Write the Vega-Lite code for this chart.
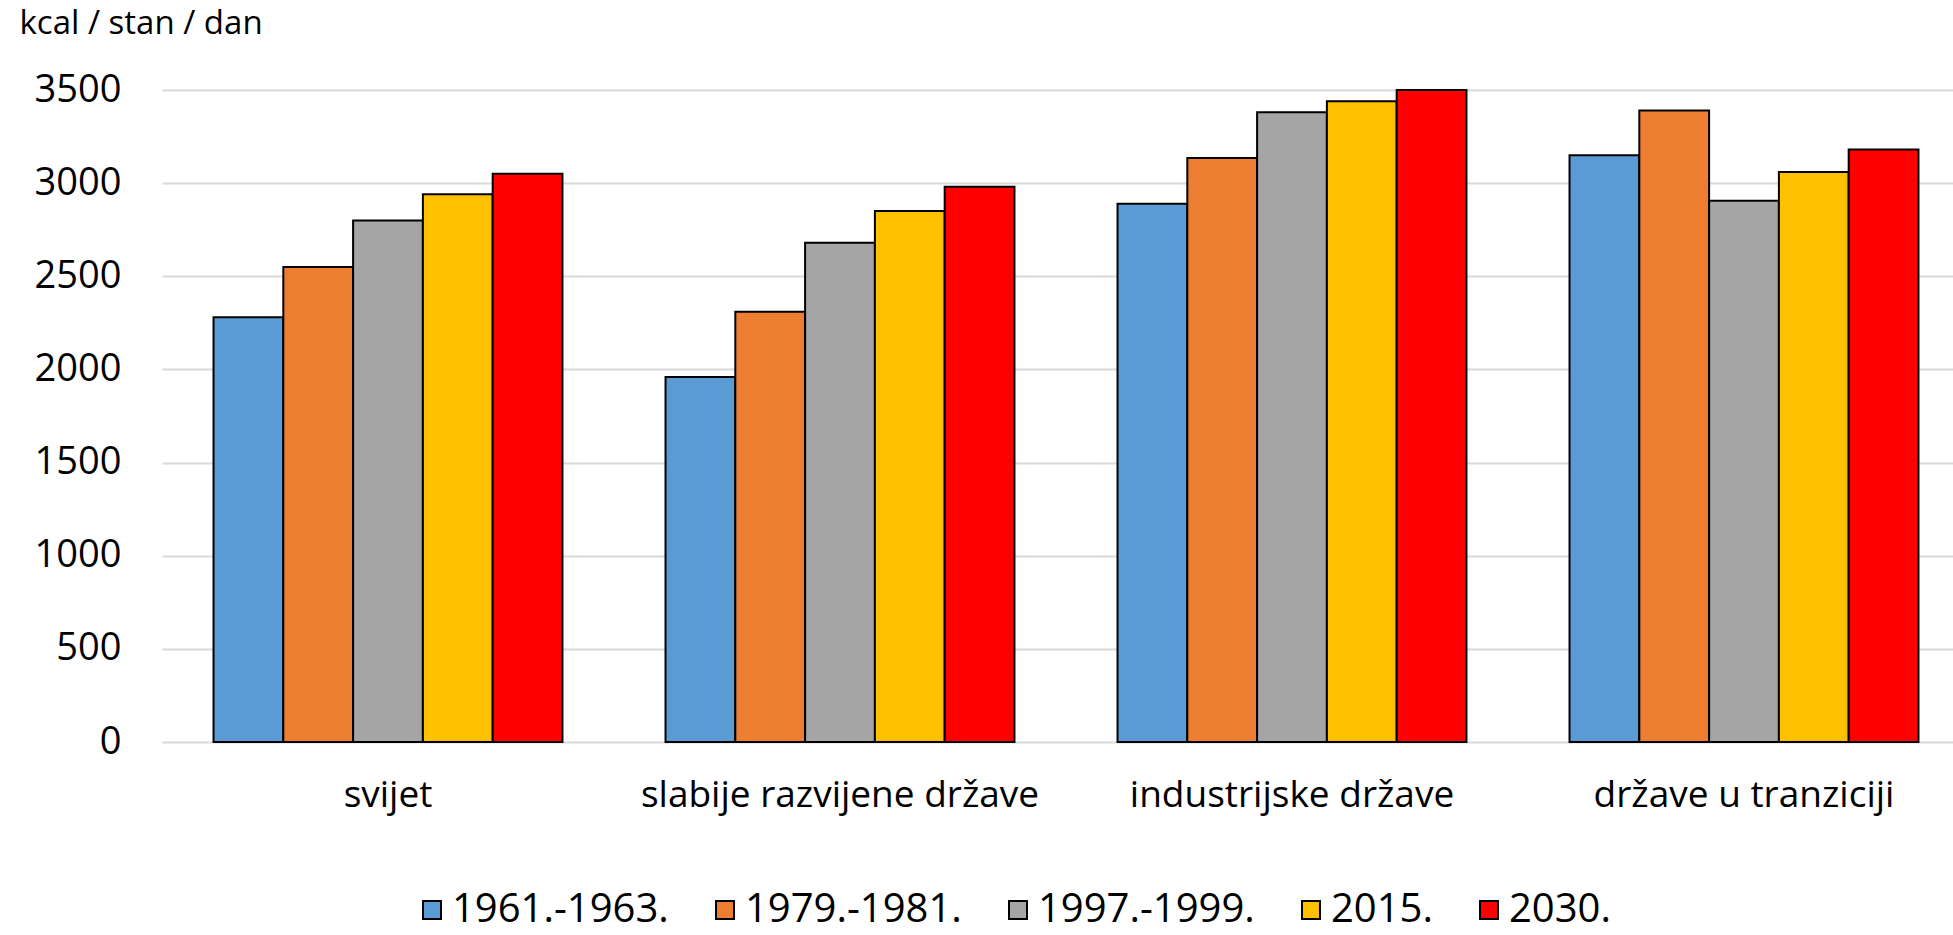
{
  "$schema": "https://vega.github.io/schema/vega-lite/v6.json",
  "autosize": {"type": "none"},
  "padding": {"left": 162, "top": 90, "right": 0, "bottom": 193},
  "width": 1791,
  "height": 652,
  "background": "white",
  "config": {
    "font": "Open Sans",
    "view": {"stroke": null}
  },
  "data": {
    "values": [
      {"region": "svijet", "period": "1961.-1963.", "kcal": 2280},
      {"region": "svijet", "period": "1979.-1981.", "kcal": 2550},
      {"region": "svijet", "period": "1997.-1999.", "kcal": 2800},
      {"region": "svijet", "period": "2015.", "kcal": 2940},
      {"region": "svijet", "period": "2030.", "kcal": 3050},
      {"region": "slabije razvijene države", "period": "1961.-1963.", "kcal": 1960},
      {"region": "slabije razvijene države", "period": "1979.-1981.", "kcal": 2310},
      {"region": "slabije razvijene države", "period": "1997.-1999.", "kcal": 2680},
      {"region": "slabije razvijene države", "period": "2015.", "kcal": 2850},
      {"region": "slabije razvijene države", "period": "2030.", "kcal": 2980},
      {"region": "industrijske države", "period": "1961.-1963.", "kcal": 2890},
      {"region": "industrijske države", "period": "1979.-1981.", "kcal": 3135},
      {"region": "industrijske države", "period": "1997.-1999.", "kcal": 3380},
      {"region": "industrijske države", "period": "2015.", "kcal": 3440},
      {"region": "industrijske države", "period": "2030.", "kcal": 3500},
      {"region": "države u tranziciji", "period": "1961.-1963.", "kcal": 3150},
      {"region": "države u tranziciji", "period": "1979.-1981.", "kcal": 3390},
      {"region": "države u tranziciji", "period": "1997.-1999.", "kcal": 2905},
      {"region": "države u tranziciji", "period": "2015.", "kcal": 3060},
      {"region": "države u tranziciji", "period": "2030.", "kcal": 3180}
    ]
  },
  "mark": {"type": "bar", "stroke": "black", "strokeWidth": 2},
  "encoding": {
    "x": {
      "field": "region",
      "type": "nominal",
      "sort": ["svijet", "slabije razvijene države", "industrijske države", "države u tranziciji"],
      "scale": {"range": [0, 1808], "paddingInner": 0.228, "paddingOuter": 0.114},
      "axis": {
        "title": null,
        "labelAngle": 0,
        "labelFontSize": 37,
        "labelColor": "black",
        "labelPadding": 35,
        "labelLimit": 0,
        "ticks": false,
        "domain": false
      }
    },
    "xOffset": {
      "field": "period",
      "type": "nominal",
      "sort": ["1961.-1963.", "1979.-1981.", "1997.-1999.", "2015.", "2030."],
      "scale": {"paddingInner": 0, "paddingOuter": 0}
    },
    "y": {
      "field": "kcal",
      "type": "quantitative",
      "scale": {"domain": [0, 3500], "nice": false},
      "axis": {
        "values": [0, 500, 1000, 1500, 2000, 2500, 3000, 3500],
        "format": "d",
        "title": "kcal / stan / dan",
        "titleAngle": 0,
        "titleAlign": "left",
        "titleBaseline": "alphabetic",
        "titleX": -143,
        "titleY": -57,
        "titleFontSize": 33,
        "titleFontWeight": "normal",
        "titleColor": "black",
        "labelFontSize": 38,
        "labelColor": "black",
        "labelPadding": 41,
        "ticks": false,
        "domain": false,
        "grid": true,
        "gridColor": "#D9D9D9",
        "gridWidth": 2
      }
    },
    "color": {
      "field": "period",
      "type": "nominal",
      "sort": ["1961.-1963.", "1979.-1981.", "1997.-1999.", "2015.", "2030."],
      "scale": {
        "domain": ["1961.-1963.", "1979.-1981.", "1997.-1999.", "2015.", "2030."],
        "range": ["#5B9BD5", "#ED7D31", "#A5A5A5", "#FFC000", "#FF0000"]
      },
      "legend": {
        "title": null,
        "orient": "none",
        "direction": "horizontal",
        "legendX": 250,
        "legendY": 800,
        "symbolType": "square",
        "symbolSize": 324,
        "symbolStrokeColor": "black",
        "symbolStrokeWidth": 2,
        "labelFontSize": 40,
        "labelColor": "black",
        "labelOffset": 0,
        "columnPadding": 36,
        "labelLimit": 400
      }
    }
  }
}
